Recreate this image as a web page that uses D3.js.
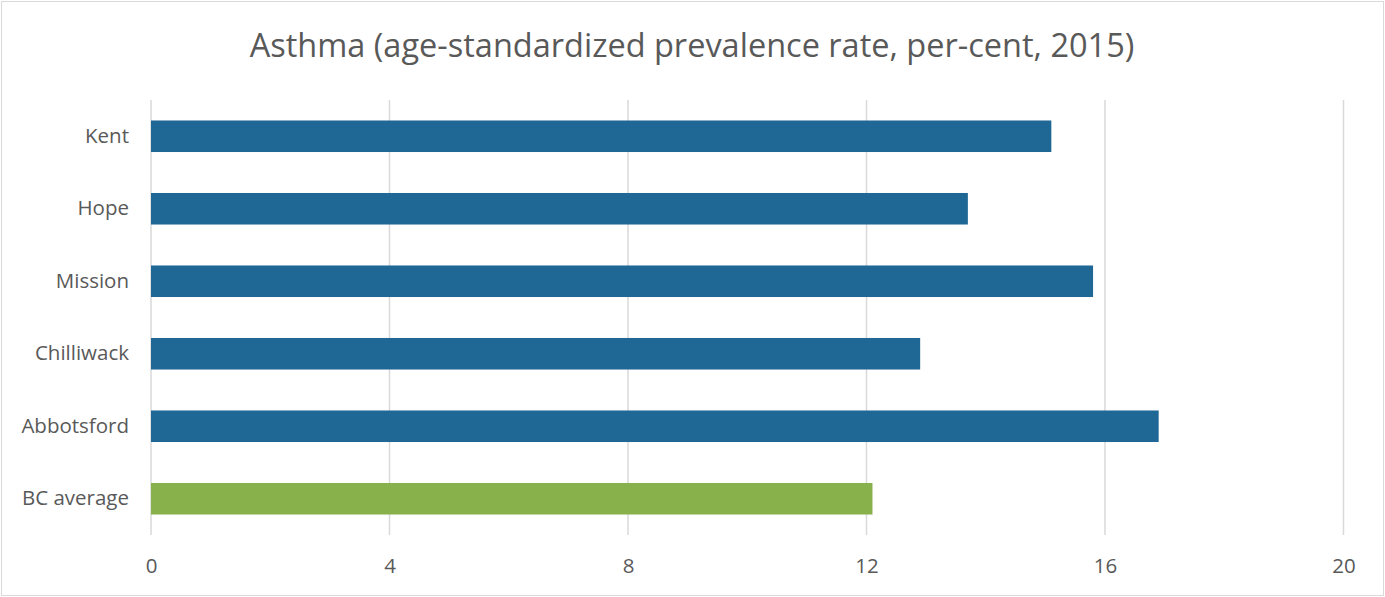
<!DOCTYPE html>
<html>
<head>
<meta charset="utf-8">
<script src="https://cdn.jsdelivr.net/npm/d3@7"></script>
<style>
  html, body { margin: 0; padding: 0; background: #fff; }
  svg { display: block; }
  text { font-family: "Open Sans", "Noto Sans", sans-serif; fill: #595959; }
</style>
</head>
<body>
<div id="chart"></div>
<script>
// Asthma prevalence by community, 2015
const categories = ["Kent", "Hope", "Mission", "Chilliwack", "Abbotsford", "BC average"];
const values = [15.1, 13.7, 15.8, 12.9, 16.9, 12.1];
const tickValues = [0, 4, 8, 12, 16, 20];
const titleText = "Asthma (age-standardized prevalence rate, per-cent, 2015)";

const W = 1385, H = 597;
const margin = { top: 100, right: 41.5, bottom: 62, left: 151 };

const svg = d3.select("#chart").append("svg")
  .attr("width", W).attr("height", H);

// outer chart frame
svg.append("rect")
  .attr("x", 1.5).attr("y", 1.5)
  .attr("width", W - 3).attr("height", H - 3)
  .attr("fill", "#fff").attr("stroke", "#d9d9d9").attr("stroke-width", 1);

const x = d3.scaleLinear().domain([0, 20]).range([margin.left, W - margin.right]);
const y = d3.scaleBand().domain(categories)
  .range([margin.top, H - margin.bottom]).paddingInner(0.565).paddingOuter(0.2825);

// vertical gridlines
svg.append("g").selectAll("line").data(tickValues).join("line")
  .attr("x1", d => x(d)).attr("x2", d => x(d))
  .attr("y1", margin.top).attr("y2", H - margin.bottom)
  .attr("stroke", "#d9d9d9").attr("stroke-width", 1.5);

// bars
svg.append("g").selectAll("rect").data(categories).join("rect")
  .attr("x", x(0))
  .attr("y", d => y(d))
  .attr("width", (d, i) => x(values[i]) - x(0))
  .attr("height", y.bandwidth())
  .attr("fill", d => d === "BC average" ? "#88b04b" : "#1f6794");

// x axis labels
const xAxis = d3.axisBottom(x).tickValues(tickValues).tickSize(0).tickPadding(0);
const gx = svg.append("g").attr("transform", `translate(0,${H - margin.bottom})`).call(xAxis);
gx.select(".domain").remove();
gx.selectAll("text").attr("font-size", 20.5).attr("dy", null).attr("y", 38)
  .style("font-family", '"Open Sans", "Noto Sans", sans-serif').attr("fill", "#595959");

// y axis labels
const yAxis = d3.axisLeft(y).tickSize(0).tickPadding(22);
const gy = svg.append("g").attr("transform", `translate(${margin.left},0)`).call(yAxis);
gy.select(".domain").remove();
gy.selectAll("text").attr("font-size", 20.5)
  .style("font-family", '"Open Sans", "Noto Sans", sans-serif').attr("fill", "#595959");

// title
svg.append("text")
  .attr("x", 692).attr("y", 57)
  .attr("text-anchor", "middle")
  .attr("font-size", 32.5)
  .text(titleText);
</script>
</body>
</html>
